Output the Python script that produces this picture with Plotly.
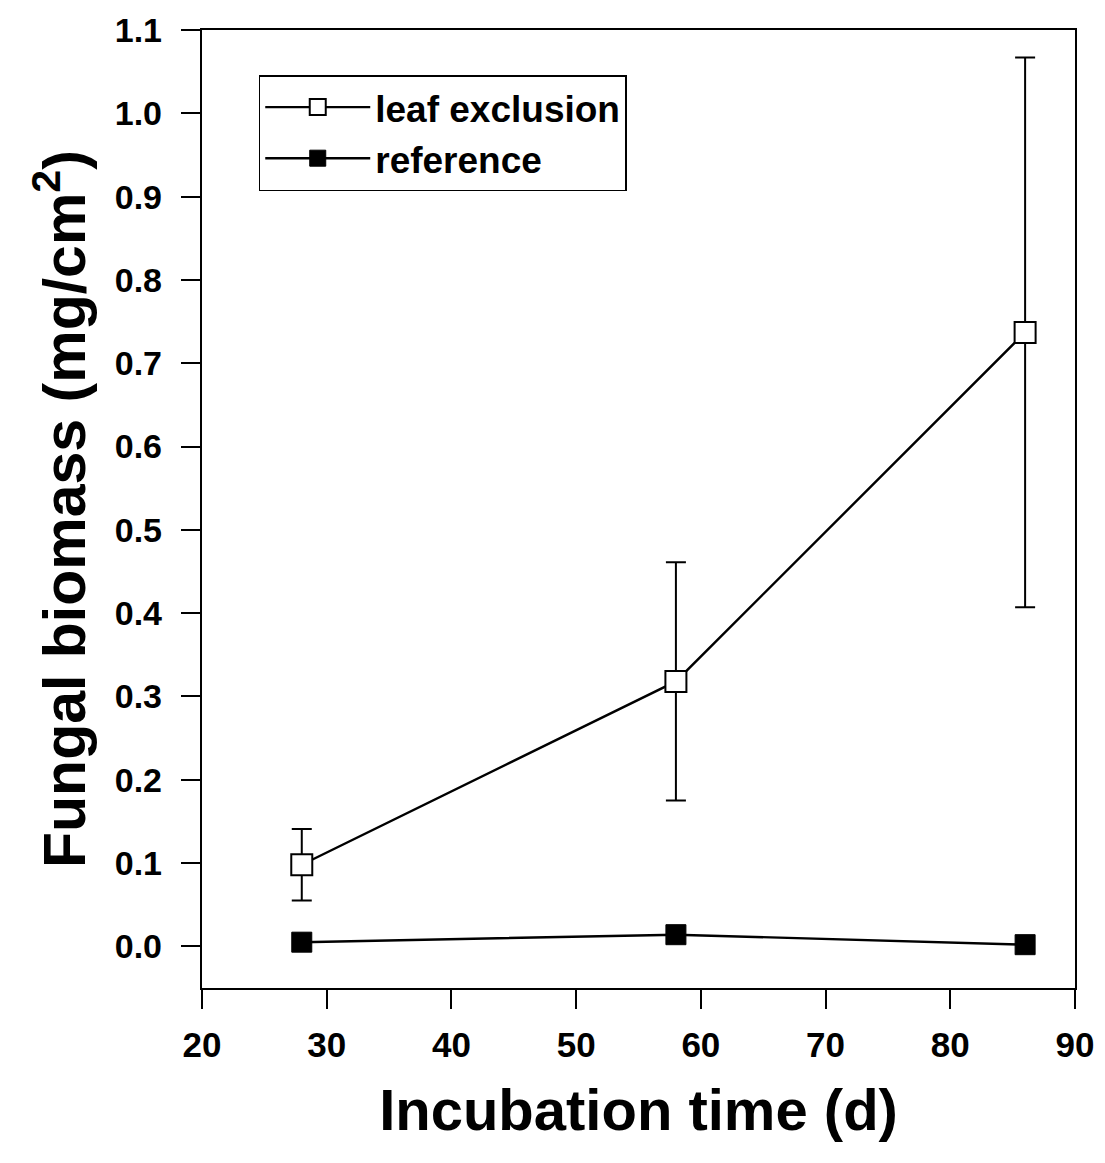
import plotly.graph_objects as go

days = [28, 58, 86]
leaf_exclusion = [0.098, 0.318, 0.737]
leaf_exclusion_err = [0.043, 0.143, 0.330]
reference = [0.005, 0.014, 0.002]

x_ticks = [20, 30, 40, 50, 60, 70, 80, 90]
y_ticks = [0.0, 0.1, 0.2, 0.3, 0.4, 0.5, 0.6, 0.7, 0.8, 0.9, 1.0, 1.1]

FONT = "Liberation Sans, Arial, sans-serif"

fig = go.Figure()
fig.add_trace(go.Scatter(
    x=days, y=leaf_exclusion, name="leaf exclusion",
    mode="lines+markers",
    line=dict(color="black", width=2.4),
    marker=dict(symbol="square", size=21, color="white", line=dict(color="black", width=2)),
    error_y=dict(type="data", array=leaf_exclusion_err, visible=True, color="black", thickness=2, width=10),
))
fig.add_trace(go.Scatter(
    x=days, y=reference, name="reference",
    mode="lines+markers",
    line=dict(color="black", width=2.4),
    marker=dict(symbol="square", size=20, color="black", line=dict(color="black", width=1)),
))

fig.update_layout(
    width=1105, height=1163,
    margin=dict(l=202, r=30, t=30, b=175),
    paper_bgcolor="white", plot_bgcolor="white",
    font=dict(family=FONT, color="black", size=34, weight="bold"),
    showlegend=True,
    legend=dict(
        x=0.065, y=0.953, xanchor="left", yanchor="top",
        bordercolor="black", borderwidth=1.5, bgcolor="white",
        font=dict(family=FONT, size=37, color="black", weight="bold"),
        itemwidth=105, tracegroupgap=0,
    ),
    xaxis=dict(
        range=[20, 90], tickvals=x_ticks, ticktext=[str(v) for v in x_ticks],
        showline=True, linecolor="black", linewidth=2.4, mirror=True,
        ticks="outside", ticklen=19, tickwidth=2, tickcolor="black",
        showgrid=False, zeroline=False, ticklabelstandoff=6,
        tickfont=dict(family=FONT, size=35, weight="bold"),
        title=dict(text="Incubation time (d)", font=dict(family=FONT, size=58, weight="bold"), standoff=26),
    ),
    yaxis=dict(
        range=[-0.05, 1.1], tickvals=y_ticks, ticktext=[f"{v:.1f}" for v in y_ticks],
        showline=True, linecolor="black", linewidth=2.4, mirror=True,
        ticks="outside", ticklen=19, tickwidth=2, tickcolor="black",
        showgrid=False, zeroline=False, ticklabelstandoff=12,
        tickfont=dict(family=FONT, size=34, weight="bold"),
        title=dict(text="Fungal biomass (mg/cm<sup>2</sup>)", font=dict(family=FONT, size=59, weight="bold"), standoff=10),
    ),
)

fig.write_html("out.html")
